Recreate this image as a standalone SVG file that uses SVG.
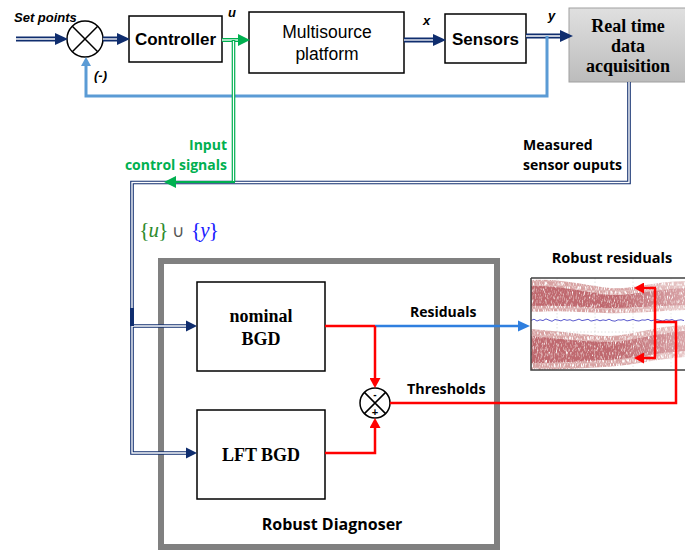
<svg xmlns="http://www.w3.org/2000/svg" width="685" height="550" viewBox="0 0 685 550">
<style>
.box{fill:#fff;stroke:#000;stroke-width:1.5}
.sans{font-family:"Liberation Sans",Arial,sans-serif}
.serif{font-family:"Liberation Serif","Times New Roman",serif;font-weight:bold}
.cal{font-family:"Open Sans","Liberation Sans",sans-serif;font-weight:bold}
.bi{font-family:"Liberation Sans",Arial,sans-serif;font-weight:bold;font-style:italic;font-size:13px}
.navyD{fill:none;stroke:#0f2d6e;stroke-width:5}
.navyT{fill:none;stroke:#0f2d6e;stroke-width:3.6}
.white{fill:none;stroke:#fff;stroke-width:1.3}
.whiteT{fill:none;stroke:#fff;stroke-width:1.4}
.greenD{fill:none;stroke:#00b050;stroke-width:4}
.red{fill:none;stroke:#ff0000;stroke-width:2.5}
.lblue{fill:none;stroke:#5b9bd5;stroke-width:3}
.sum{fill:#fff;stroke:#000;stroke-width:1.5}
</style>
<defs>
<marker id="aNavy" markerUnits="userSpaceOnUse" markerWidth="14" markerHeight="12" refX="0" refY="6" orient="auto" viewBox="0 0 14 12"><path d="M0,0 L13,6 L0,12 z" fill="#0f2d6e"/></marker>
<marker id="aNavyS" markerUnits="userSpaceOnUse" markerWidth="12" markerHeight="12" refX="0" refY="6" orient="auto" viewBox="0 0 12 12"><path d="M0,0.5 L11,6 L0,11.5 z" fill="#0f2d6e"/></marker>
<marker id="aGreen" markerUnits="userSpaceOnUse" markerWidth="13" markerHeight="12" refX="0" refY="6" orient="auto" viewBox="0 0 13 12"><path d="M0,0 L12,6 L0,12 z" fill="#00b050"/></marker>
<marker id="aLB" markerUnits="userSpaceOnUse" markerWidth="10" markerHeight="10" refX="0" refY="5" orient="auto" viewBox="0 0 10 10"><path d="M0,0 L9,5 L0,10 z" fill="#5b9bd5"/></marker>
<marker id="aRed" markerUnits="userSpaceOnUse" markerWidth="11" markerHeight="11" refX="0" refY="5.5" orient="auto" viewBox="0 0 11 11"><path d="M0,0 L10,5.5 L0,11 z" fill="#ff0000"/></marker>
<marker id="aBlue" markerUnits="userSpaceOnUse" markerWidth="13" markerHeight="12" refX="0" refY="6" orient="auto" viewBox="0 0 13 12"><path d="M0,0.5 L12,6 L0,11.5 z" fill="#2f7fdf"/></marker>
<linearGradient id="gray" x1="0" y1="0" x2="0" y2="1"><stop offset="0" stop-color="#e0e0e0"/><stop offset="1" stop-color="#bcbcbc"/></linearGradient>
<linearGradient id="fade" x1="0" y1="0" x2="1" y2="0"><stop offset="0" stop-color="#fff" stop-opacity="0"/><stop offset="0.55" stop-color="#fff" stop-opacity="0"/><stop offset="1" stop-color="#fff" stop-opacity="0.4"/></linearGradient>
<filter id="nzA" x="0" y="0" width="1" height="1"><feTurbulence type="fractalNoise" baseFrequency="1.0 0.22" numOctaves="2" seed="5"/><feColorMatrix type="matrix" values="0 0 0 0 0.68  0 0 0 0 0.36  0 0 0 0 0.36  3.6 0 0 0 -1.0"/></filter>
<filter id="nzB" x="0" y="0" width="1" height="1"><feTurbulence type="fractalNoise" baseFrequency="1.1 0.25" numOctaves="2" seed="11"/><feColorMatrix type="matrix" values="0 0 0 0 0.52  0 0 0 0 0.14  0 0 0 0 0.16  4 0 0 0 -1.1"/></filter>
<clipPath id="plotClip"><rect x="531" y="278" width="154" height="92"/></clipPath>
<clipPath id="bandOut"><path d="M531,280 C560,278 590,286 610,288 C630,290 650,282 685,281 L685,310 C655,311 630,314 605,313 C580,312 560,310 531,312 Z M531,329 C560,331 590,336 610,336 C635,335 655,326 685,325 L685,357 C655,359 630,366 605,367 C580,368 560,370 531,370 Z"/></clipPath>
<clipPath id="bandIn"><path d="M531,286 C560,285 590,293 610,295 C630,296 650,290 685,288 L685,305 C655,306 630,308 605,308 C580,307 560,305 531,306 Z M531,336 C560,339 590,342 610,342 C635,341 655,333 685,331 L685,351 C655,353 630,359 605,360 C580,361 560,363 531,363 Z"/></clipPath>
</defs>

<g id="robust-diagnoser">
<rect x="161" y="261" width="336" height="286" fill="#fff" stroke="#808080" stroke-width="6"/>
<text class="cal" x="332" y="530" font-size="16" text-anchor="middle">Robust Diagnoser</text>
</g>

<g id="set-points"><text class="bi" x="14" y="22" font-size="13.5">Set points</text></g>

<g id="sum1">
<circle class="sum" cx="85" cy="39" r="18"/>
<path d="M72.3,26.3 L97.7,51.7 M97.7,26.3 L72.3,51.7" stroke="#000" stroke-width="1.5"/>
<text class="bi" x="94" y="80">(-)</text>
</g>

<g id="controller">
<rect class="box" x="129" y="16" width="93" height="46"/>
<text class="sans" x="175.5" y="45" font-size="17" font-weight="bold" text-anchor="middle">Controller</text>
</g>

<g id="platform">
<rect class="box" x="249" y="12" width="155" height="61"/>
<text class="sans" x="327" y="38" font-size="17.5" text-anchor="middle">Multisource</text>
<text class="sans" x="327" y="60" font-size="17.5" text-anchor="middle">platform</text>
</g>

<g id="sensors">
<rect class="box" x="445" y="14" width="81" height="49"/>
<text class="sans" x="485.5" y="45" font-size="17" font-weight="bold" text-anchor="middle">Sensors</text>
</g>

<g id="acquisition">
<rect x="569" y="8" width="130" height="74" fill="url(#gray)" stroke="#a0a0a0" stroke-width="1"/>
<text class="serif" x="628" y="32" font-size="18" text-anchor="middle">Real time</text>
<text class="serif" x="628" y="52" font-size="18" text-anchor="middle">data</text>
<text class="serif" x="628" y="72" font-size="18" text-anchor="middle">acquisition</text>
</g>

<g id="nominal-bgd">
<rect class="box" x="197" y="282" width="128" height="89"/>
<text class="serif" x="261" y="322" font-size="18" text-anchor="middle">nominal</text>
<text class="serif" x="261" y="345" font-size="18" text-anchor="middle">BGD</text>
</g>

<g id="lft-bgd">
<rect class="box" x="197" y="410" width="128" height="89"/>
<text class="serif" x="261" y="461" font-size="18" text-anchor="middle">LFT BGD</text>
</g>

<g id="sum2">
<circle class="sum" cx="375" cy="403" r="15"/>
<path d="M364.4,392.4 L385.6,413.6 M385.6,392.4 L364.4,413.6" stroke="#000" stroke-width="1.5"/>
<text class="sans" x="375" y="398" font-size="10" font-weight="bold" text-anchor="middle">-</text>
<text class="sans" x="375" y="416" font-size="11" font-weight="bold" text-anchor="middle">+</text>
</g>

<g id="robust-residuals">
<text class="cal" x="612" y="263" font-size="14.5" text-anchor="middle">Robust residuals</text>
<rect x="531" y="278" width="160" height="92" fill="#fff"/>
<g clip-path="url(#plotClip)">
<g stroke="#d8d8d8" stroke-width="0.8" stroke-dasharray="1.5,2">
<path d="M557,278 V370 M595,278 V370 M633,278 V370 M671,278 V370 M531,301 H685 M531,332 H685"/>
</g>
<g clip-path="url(#bandOut)"><rect x="531" y="278" width="154" height="92" filter="url(#nzA)"/></g>
<g clip-path="url(#bandIn)"><rect x="531" y="278" width="154" height="92" filter="url(#nzB)"/></g>
<rect x="531" y="278" width="154" height="92" fill="url(#fade)"/>
<polyline fill="none" stroke="#5a5acd" stroke-width="1" points="531,320.5 534,319.2 537,321 540,319.8 543,320.6 546,318.9 549,320.2 552,321.3 555,319.5 558,320.1 561,320.9 564,319.4 567,320.3 570,319.7 573,321 576,320.2 579,319.1 582,320.6 585,320 588,319.3 591,321.1 594,320.4 597,319.6 600,320.8 603,319.9 606,320.5 609,319.2 612,320.7 615,321.2 618,319.8 621,320.1 624,319.5 627,320.9 630,320.3 633,319.4 636,320.6 639,321 642,319.9 645,320.2 648,319.3 651,320.8 654,320.1 657,319.6 660,320.4 663,321.1 666,319.7 669,320.3 672,319.5 675,320.9 678,320.2 681,319.8 684,320.6"/>
</g>
<path d="M531,278 H686 M531,278 V370 H686" fill="none" stroke="#404040" stroke-width="1.5"/>
</g>

<g id="labels">
<text class="bi" x="228" y="17">u</text>
<text class="bi" x="423" y="25">x</text>
<text class="bi" x="548" y="20">y</text>
<text class="cal" x="227" y="150" font-size="14" fill="#00b050" text-anchor="end">Input</text>
<text class="cal" x="227" y="170" font-size="14" fill="#00b050" text-anchor="end">control signals</text>
<text class="cal" x="523" y="150" font-size="14" font-weight="600">Measured</text>
<text class="cal" x="523" y="170" font-size="14" font-weight="600">sensor ouputs</text>
<text x="139" y="237" font-family="'Liberation Serif','Times New Roman',serif" font-size="22"><tspan fill="#2e8b2e">{</tspan><tspan fill="#2e8b2e" font-style="italic" font-size="21" dx="-1">u</tspan><tspan fill="#2e8b2e" dx="-1">}</tspan><tspan fill="#555" font-size="17" dx="3">∪</tspan><tspan fill="#1a1aff" dx="7">{</tspan><tspan fill="#1a1aff" font-style="italic" font-size="21" dx="-1">y</tspan><tspan fill="#1a1aff" dx="-1">}</tspan></text>
<text class="cal" x="410" y="317" font-size="14">Residuals</text>
<text class="cal" x="407" y="394" font-size="14.3">Thresholds</text>
</g>

<g id="connectors">
<path class="navyD" d="M16,39 H55" marker-end="url(#aNavy)"/>
<path class="white" d="M16,39 H55"/>
<path class="navyD" d="M103,39 H117" marker-end="url(#aNavy)"/>
<path class="white" d="M103,39 H117"/>
<path class="navyD" d="M404,40 H433" marker-end="url(#aNavy)"/>
<path class="white" d="M404,40 H433"/>
<path class="navyD" d="M526,36 H560" marker-end="url(#aNavy)"/>
<path class="white" d="M526,36 H560"/>
<path class="lblue" d="M547,36 V96 H86 V66" marker-end="url(#aLB)"/>
<path class="navyT" d="M629,82 V182.5 H132 V453 H186" marker-end="url(#aNavyS)"/>
<path class="navyT" d="M132,326 H186" marker-end="url(#aNavyS)"/>
<path class="whiteT" d="M629,82 V182.5 H132 V453 H186 M132,326 H186"/>
<rect x="130" y="308" width="4" height="18" fill="#0f2d6e"/>
<path class="greenD" d="M222,40 H238" marker-end="url(#aGreen)"/>
<path class="white" d="M222,40 H238"/>
<path fill="none" stroke="#00b050" stroke-width="3.6" d="M233.5,40 V182"/>
<path fill="none" stroke="#fff" stroke-width="1.2" d="M233.5,41 V181"/>
<path fill="none" stroke="#00b050" stroke-width="2" d="M235,182 H176" marker-end="url(#aGreen)"/>
<path class="red" d="M325,326 H375"/>
<path fill="none" stroke="#2f7fdf" stroke-width="2.5" d="M375,326 H518" marker-end="url(#aBlue)"/>
<path class="red" d="M375,326 V378" marker-end="url(#aRed)"/>
<path class="red" d="M325,453 H375 V428" marker-end="url(#aRed)"/>
<path class="red" d="M390,403 H676 V322 H655"/>
<path class="red" d="M655,288 V358"/>
<path class="red" d="M656,288 H644" marker-end="url(#aRed)"/>
<path class="red" d="M656,358 H644" marker-end="url(#aRed)"/>
</g>
</svg>
